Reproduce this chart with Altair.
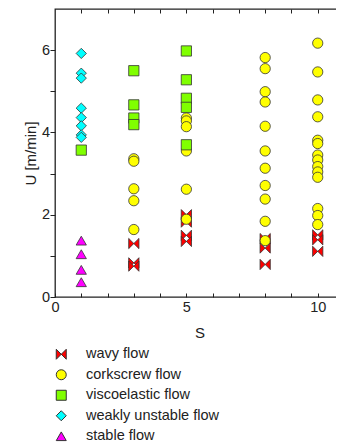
import altair as alt
import pandas as pd

categories = ["wavy flow", "corkscrew flow", "viscoelastic flow", "weakly unstable flow", "stable flow"]
colors = ["#ff0000", "#ffff00", "#80ff00", "#00ffff", "#ff00ff"]
shapes = ["M-1,-1L1,1L1,-1L-1,1Z", "circle", "square", "diamond", "triangle-up"]

wavy_s = [3, 3, 3, 5, 5, 5, 5, 8, 8, 8, 10, 10, 10]
wavy_u = [1.30, 0.83, 0.75, 2.00, 1.82, 1.50, 1.35, 1.42, 1.19, 0.79, 1.51, 1.39, 1.11]

cork_s = [3, 3, 3, 3, 3,
          5, 5, 5, 5, 5, 5,
          8, 8, 8, 8, 8, 8, 8, 8, 8, 8, 8,
          10, 10, 10, 10, 10, 10, 10, 10, 10, 10, 10, 10, 10, 10]
cork_u = [3.36, 3.30, 2.63, 2.34, 1.64,
          4.35, 4.28, 4.14, 3.55, 2.62, 1.89,
          5.82, 5.55, 4.99, 4.74, 4.15, 3.55, 3.13, 2.71, 2.38, 1.84, 1.37,
          6.17, 5.47, 4.79, 4.38, 3.81, 3.73, 3.45, 3.33, 3.17, 3.04, 2.91, 2.15, 1.98, 1.76]

visco_s = [1, 3, 3, 3, 3, 5, 5, 5, 5, 5]
visco_u = [3.57, 5.50, 4.67, 4.35, 4.19, 5.98, 5.28, 4.83, 4.61, 3.70]

weak_s = [1, 1, 1, 1, 1, 1, 1, 1]
weak_u = [5.92, 5.44, 5.32, 4.59, 4.36, 4.16, 3.94, 3.88]

stable_s = [1, 1, 1, 1]
stable_u = [1.37, 1.04, 0.66, 0.36]

x_ticks = [0, 1, 2, 3, 4, 5, 6, 7, 8, 9, 10]
y_ticks = [0, 1, 2, 3, 4, 5, 6]

rows = []
for cat, ss, uu in zip(categories,
                       [wavy_s, cork_s, visco_s, weak_s, stable_s],
                       [wavy_u, cork_u, visco_u, weak_u, stable_u]):
    for s, u in zip(ss, uu):
        rows.append({"S": s, "U": u, "flow": cat})
df = pd.DataFrame(rows)

W, H = 289, 288
xscale = alt.Scale(domain=[0, 11], nice=False, zero=False)
yscale = alt.Scale(domain=[0, 7], nice=False, zero=False)
FONT = "Liberation Sans"
INK = "#222222"

points = alt.Chart(df).mark_point(
    filled=True, opacity=1, stroke="#333333", strokeWidth=0.8, size=105
).encode(
    x=alt.X("S:Q", scale=xscale, title="S",
            axis=alt.Axis(orient="bottom", offset=-4, values=x_ticks, ticks=True,
                          tickSize=4, tickColor=INK, grid=False, domain=False,
                          labelExpr="datum.value % 5 == 0 ? datum.label : ''",
                          labelFlush=False, labelPadding=3, titlePadding=12,
                          labelFontSize=14.5, titleFontSize=15, titleFontWeight="normal",
                          labelFont=FONT, titleFont=FONT, labelColor=INK,
                          titleColor=INK)),
    y=alt.Y("U:Q", scale=yscale, title="U [m/min]",
            axis=alt.Axis(orient="left", values=y_ticks, ticks=True, tickSize=5,
                          tickColor=INK, grid=False, domain=False,
                          labelFlush=False, labelPadding=0.5, titlePadding=2.5,
                          labelExpr="datum.value % 2 == 0 ? datum.label : ''",
                          labelFontSize=14.5, titleFontSize=15, titleFontWeight="normal",
                          labelFont=FONT, titleFont=FONT, labelColor=INK,
                          titleColor=INK)),
    color=alt.Color("flow:N", scale=alt.Scale(domain=categories, range=colors),
                    sort=categories,
                    legend=alt.Legend(title=None, orient="none", legendX=-1, legendY=338,
                                      labelFontSize=14.5, labelFont=FONT, labelColor=INK,
                                      symbolSize=100, symbolStrokeColor=INK,
                                      symbolStrokeWidth=1, rowPadding=4.5, labelOffset=17.5,
                                      symbolOpacity=1)),
    shape=alt.Shape("flow:N", scale=alt.Scale(domain=categories, range=shapes),
                    sort=categories),
)

# inward ticks on the top and right edges
edge_ticks = alt.Chart(df).mark_point(opacity=0).encode(
    x=alt.X("S:Q", scale=xscale, title=None,
            axis=alt.Axis(orient="top", offset=-4, values=x_ticks[1:], labels=False,
                          domain=False, grid=False, ticks=True, tickSize=4,
                          tickColor=INK)),
    y=alt.Y("U:Q", scale=yscale, title=None,
            axis=alt.Axis(orient="right", offset=-4, values=y_ticks[1:], labels=False,
                          domain=False, grid=False, ticks=True, tickSize=4,
                          tickColor=INK)),
)

chart = alt.layer(points, edge_ticks).resolve_axis(
    x="independent", y="independent"
).properties(
    width=W, height=H,
    padding={"left": 15, "top": 0, "right": -9, "bottom": 0},
    background="white",
).configure_view(stroke=INK, strokeWidth=1.3)

chart.save("out.html", embed_options={"renderer": "svg", "actions": False})
